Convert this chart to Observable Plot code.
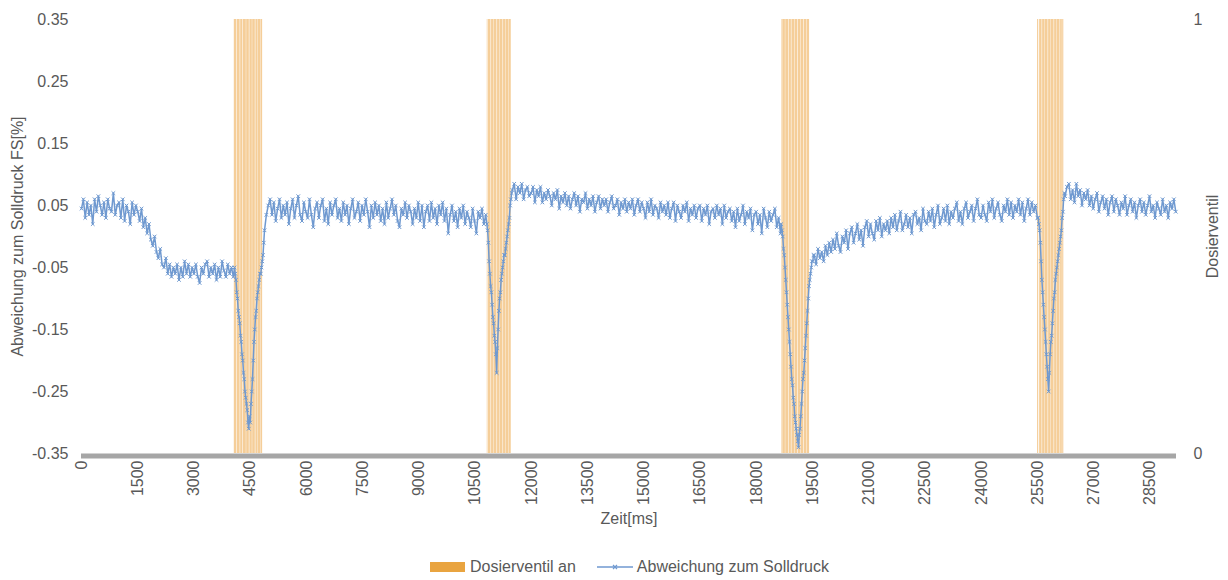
<!DOCTYPE html>
<html>
<head>
<meta charset="utf-8">
<script src="https://cdn.jsdelivr.net/npm/d3@7"></script>
<script src="https://cdn.jsdelivr.net/npm/@observablehq/plot@0.6"></script>
<style>
  html, body { margin: 0; padding: 0; background: #fff; }
  body { width: 1228px; height: 580px; position: relative; overflow: hidden; font-family: "Liberation Sans", Arial, sans-serif; }
  #legend { position: absolute; left: 430px; top: 556px; height: 22px; display: flex; align-items: center; font-size: 16px; color: #595959; white-space: nowrap; }
  .sw-bar { width: 35px; height: 10px; background: #E9A440; margin-right: 5px; }
  .sw-line { width: 36px; height: 10px; margin-left: 21px; margin-right: 4px; position: relative; }
</style>
</head>
<body>
<div id="chart"></div>
<div id="legend">
  <div class="sw-bar"></div><span>Dosierventil an</span>
  <svg class="sw-line" width="36" height="10" viewBox="0 0 36 10"><line x1="0" y1="5" x2="36" y2="5" stroke="#6F99D0" stroke-width="1.5"/><path d="M16,3L20,7M20,3L16,7" stroke="#6F99D0" stroke-width="1.2"/></svg><span>Abweichung zum Solldruck</span>
</div>
<script>
// ---- axis ticks ----
const xTicks = [0,1500,3000,4500,6000,7500,9000,10500,12000,13500,15000,16500,18000,19500,21000,22500,24000,25500,27000,28500];
const yTicks = [0.35,0.25,0.15,0.05,-0.05,-0.15,-0.25,-0.35];
const yRightTicks = [0, 1];

// ---- Abweichung zum Solldruck [%], segments: start time (ms), step (ms), values ----
const segStart = [0, 4080, 4880, 10810, 11490, 18660, 19540, 25510, 26230];
const segStep  = [50, 20, 50, 20, 50, 20, 50, 20, 50];

const segA = [
  0.045,0.06,0.03,0.055,0.035,0.05,0.02,0.06,0.04,0.065,
  0.05,0.035,0.055,0.03,0.06,0.045,0.04,0.07,0.035,0.05,
  0.055,0.03,0.06,0.025,0.05,0.04,0.02,0.055,0.035,0.05,
  0.04,0.025,0.045,0.015,0.03,0.005,0.02,-0.005,-0.015,0.0,
  -0.025,-0.035,-0.02,-0.045,-0.05,-0.035,-0.06,-0.045,-0.065,-0.05,
  -0.06,-0.045,-0.07,-0.05,-0.065,-0.04,-0.06,-0.045,-0.065,-0.05,
  -0.06,-0.045,-0.065,-0.075,-0.05,-0.06,-0.045,-0.04,-0.065,-0.05,
  -0.06,-0.045,-0.07,-0.05,-0.065,-0.04,-0.055,-0.065,-0.045,-0.06,
  -0.05,-0.065
];
const dip1 = [
  -0.05,-0.06,-0.07,-0.09,-0.10,-0.12,-0.13,-0.14,-0.16,-0.17,
  -0.19,-0.20,-0.22,-0.23,-0.25,-0.26,-0.27,-0.28,-0.30,-0.31,
  -0.29,-0.30,-0.27,-0.25,-0.23,-0.20,-0.17,-0.15,-0.13,-0.12,
  -0.10,-0.09,-0.08,-0.07,-0.06,-0.06,-0.05,-0.04,-0.03,-0.01
];
const segB = [
  0.01,0.035,0.05,0.06,0.035,0.055,0.025,0.045,0.06,0.03,
  0.05,0.035,0.055,0.02,0.045,0.06,0.03,0.05,0.065,0.035,
  0.025,0.055,0.04,0.03,0.06,0.035,0.015,0.045,0.055,0.03,
  0.05,0.06,0.025,0.045,0.02,0.055,0.035,0.05,0.06,0.03,
  0.045,0.025,0.055,0.035,0.05,0.02,0.045,0.06,0.03,0.04,
  0.055,0.025,0.05,0.035,0.06,0.04,0.015,0.05,0.03,0.055,
  0.035,0.05,0.025,0.045,0.02,0.055,0.03,0.045,0.06,0.035,
  0.05,0.025,0.015,0.045,0.035,0.055,0.03,0.05,0.04,0.02,
  0.045,0.03,0.055,0.025,0.05,0.015,0.04,0.05,0.025,0.055,
  0.03,0.045,0.02,0.05,0.035,0.055,0.025,0.045,0.005,0.035,
  0.05,0.025,0.04,0.015,0.045,0.03,0.05,0.02,0.04,0.03,
  0.015,0.045,0.025,0.005,0.04,0.03,0.045,0.02,0.035
];
const dip2 = [
  0.02,0.01,-0.01,-0.04,-0.06,-0.08,-0.09,-0.11,-0.13,-0.14,
  -0.16,-0.17,-0.19,-0.22,-0.18,-0.15,-0.12,-0.10,-0.09,-0.07,
  -0.06,-0.05,-0.04,-0.03,-0.03,-0.02,-0.01,0.00,0.01,0.02,
  0.03,0.05,0.06,0.07
];
const segC = [
  0.075,0.085,0.06,0.08,0.07,0.085,0.06,0.075,0.08,0.065,
  0.07,0.08,0.055,0.075,0.065,0.08,0.055,0.07,0.06,0.075,
  0.065,0.05,0.07,0.06,0.075,0.045,0.065,0.055,0.07,0.05,
  0.065,0.045,0.06,0.07,0.05,0.065,0.04,0.06,0.055,0.07,
  0.045,0.06,0.05,0.065,0.04,0.055,0.065,0.045,0.06,0.05,
  0.06,0.04,0.055,0.065,0.045,0.05,0.06,0.035,0.055,0.045,
  0.06,0.04,0.055,0.045,0.06,0.035,0.05,0.06,0.04,0.055,
  0.045,0.03,0.055,0.04,0.06,0.035,0.05,0.045,0.03,0.055,
  0.04,0.05,0.035,0.055,0.03,0.045,0.055,0.025,0.05,0.04,
  0.03,0.05,0.04,0.055,0.025,0.045,0.035,0.05,0.03,0.045,
  0.05,0.025,0.045,0.035,0.05,0.02,0.04,0.045,0.03,0.05,
  0.035,0.045,0.02,0.05,0.03,0.04,0.045,0.025,0.04,0.015,
  0.045,0.025,0.035,0.05,0.02,0.04,0.03,0.045,0.01,0.035,
  0.04,0.02,0.035,0.005,0.045,0.03,0.015,0.04,0.025,0.035,
  0.045,0.015,0.03,0.005
];
const dip3 = [
  0.02,0.01,0.00,-0.02,-0.03,-0.05,-0.07,-0.09,-0.11,-0.13,
  -0.15,-0.17,-0.19,-0.21,-0.23,-0.24,-0.26,-0.27,-0.29,-0.30,
  -0.31,-0.32,-0.33,-0.34,-0.32,-0.31,-0.29,-0.27,-0.25,-0.23,
  -0.22,-0.20,-0.18,-0.16,-0.14,-0.12,-0.10,-0.08,-0.07,-0.06,
  -0.05,-0.04,-0.04,-0.03
];
const segD = [
  -0.03,-0.045,-0.02,-0.035,-0.025,-0.04,-0.015,-0.03,-0.01,-0.025,
  -0.005,-0.02,0.005,-0.015,-0.025,0.0,-0.01,0.01,-0.02,0.005,
  0.015,-0.01,0.005,0.02,-0.005,0.01,-0.015,0.015,0.025,0.0,
  0.02,0.005,-0.005,0.025,0.01,0.03,0.0,0.02,0.01,0.025,
  0.005,0.03,0.015,0.035,0.01,0.025,0.04,0.01,0.02,0.035,
  0.015,0.03,0.005,0.035,0.04,0.02,0.03,0.01,0.045,0.025,
  0.02,0.04,0.025,0.045,0.015,0.035,0.05,0.02,0.03,0.045,
  0.025,0.05,0.02,0.04,0.03,0.045,0.055,0.025,0.04,0.02,
  0.045,0.055,0.03,0.04,0.05,0.025,0.045,0.06,0.035,0.03,
  0.05,0.035,0.025,0.055,0.04,0.06,0.03,0.045,0.055,0.035,
  0.025,0.05,0.04,0.06,0.035,0.055,0.03,0.05,0.04,0.06,
  0.035,0.055,0.025,0.045,0.06,0.035,0.055,0.04,0.05,0.03
];
const dip4 = [
  0.03,0.02,0.01,-0.01,-0.04,-0.07,-0.09,-0.11,-0.13,-0.15,
  -0.17,-0.19,-0.21,-0.23,-0.25,-0.22,-0.19,-0.17,-0.16,-0.14,
  -0.12,-0.10,-0.09,-0.07,-0.06,-0.05,-0.04,-0.03,-0.02,-0.01,
  0.00,0.01,0.03,0.04,0.06,0.07
];
const segE = [
  0.065,0.08,0.085,0.06,0.075,0.055,0.085,0.065,0.075,0.05,
  0.07,0.06,0.075,0.05,0.065,0.045,0.06,0.07,0.04,0.055,
  0.065,0.045,0.06,0.035,0.055,0.065,0.04,0.06,0.05,0.035,
  0.055,0.045,0.065,0.035,0.05,0.06,0.04,0.055,0.03,0.05,
  0.06,0.04,0.055,0.035,0.05,0.065,0.04,0.05,0.03,0.055,
  0.045,0.035,0.06,0.04,0.05,0.03,0.055,0.045,0.06,0.04
];
const segValues = [segA, dip1, segB, dip2, segC, dip3, segD, dip4, segE];

// ---- Dosierventil an: ON pulses (ms) ----
const valveStart = [
  4075,4150,4245,4320,4405,4490,4565,4650,4720,4785,
  10820,10845,10935,11010,11095,11170,11255,11330,11410,
  18670,18700,18780,18870,18945,19030,19115,19190,19275,19350,
  25495,25550,25630,25705,25790,25865,25950,26025,26110,26165
];
const valveEnd = [
  4135,4230,4305,4395,4475,4555,4635,4710,4775,4830,
  10832,10920,11000,11080,11160,11240,11320,11400,11460,
  18685,18770,18855,18930,19020,19100,19180,19260,19340,19415,
  25525,25615,25695,25775,25855,25935,26015,26095,26155,26195
];

// ---- build tables ----
const series = segValues.flatMap((vals, s) => vals.map((v, i) => ({t: segStart[s] + i * segStep[s], v})));
const pulses = valveStart.map((s, i) => ({s, e: valveEnd[i]}));

const yMin = -0.35, yMax = 0.35;
const yRight = d3.scaleLinear([0, 1], [yMin, yMax]); // secondary axis (Dosierventil) mapped onto primary
const blue = "#6F99D0";
const grey = "#595959";

const chart = Plot.plot({
  width: 1228,
  height: 550,
  marginLeft: 81,
  marginRight: 52,
  marginTop: 19,
  marginBottom: 97,
  style: {fontFamily: "'Liberation Sans', Arial, sans-serif", fontSize: "16px", color: grey, background: "white"},
  x: {domain: [0, 29200]},
  y: {domain: [yMin, yMax]},
  marks: [
    Plot.rect(pulses, {x1: "s", x2: "e", y1: yRight(0), y2: yRight(1), fill: "#EFAE55", fillOpacity: 0.6}),
    Plot.line(series, {x: "t", y: "v", stroke: blue, strokeWidth: 1.5}),
    Plot.dot(series, {x: "t", y: "v", symbol: "times", r: 1.8, stroke: blue, strokeWidth: 1}),
    Plot.ruleY([yMin], {x1: 0, x2: 29200, stroke: "#A6A6A6", strokeWidth: 5, dy: 2.5}),
    Plot.axisY(yTicks, {anchor: "left", tickSize: 0, tickPadding: 13, tickFormat: d => d.toFixed(2), fontSize: 16, fill: grey, label: null}),
    Plot.axisY(yRightTicks.map(yRight), {anchor: "right", tickSize: 0, tickPadding: 17, tickFormat: d => String(Math.round(yRight.invert(d))), fontSize: 16, fill: grey, label: null}),
    Plot.axisX(xTicks, {anchor: "bottom", tickSize: 0, tickPadding: 7, tickRotate: -90, tickFormat: d => String(d), fontSize: 16, fill: grey, label: null}),
    Plot.text(["Zeit[ms]"], {frameAnchor: "bottom", dy: 70, fontSize: 16, fill: grey}),
    Plot.text(["Abweichung zum Solldruck FS[%]"], {frameAnchor: "left", textAnchor: "middle", dx: -64, rotate: -90, fontSize: 16, fill: grey}),
    Plot.text(["Dosierventil"], {frameAnchor: "right", textAnchor: "middle", dx: 36, rotate: -90, fontSize: 16, fill: grey})
  ]
});
document.getElementById("chart").appendChild(chart);
</script>
</body>
</html>
